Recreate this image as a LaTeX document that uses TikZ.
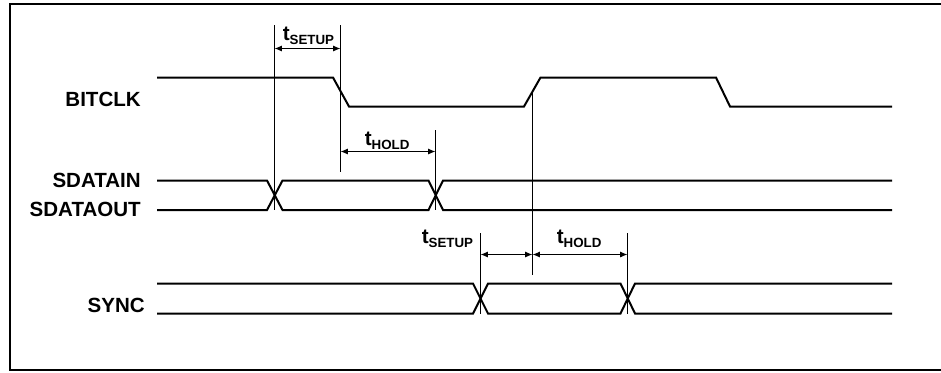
\documentclass[tikz,border=0pt]{standalone}
\usepackage{fontspec}
\setmainfont{Liberation Sans}
\usetikzlibrary{arrows.meta}
\tikzset{
  sigline/.style={line width=1.5pt, line join=miter},
  guide/.style={line width=0.8pt},
  span/.style={line width=0.8pt, {Latex[length=5.5pt,width=4.5pt]}-{Latex[length=5.5pt,width=4.5pt]}},
  lbl/.style={anchor=east, inner sep=0pt, font=\bfseries\fontsize{15.4}{18}\selectfont},
  tlbl/.style={anchor=base west, inner sep=0pt, font=\bfseries}
}
\newcommand{\tsub}[1]{{\fontsize{15.5}{18}\selectfont t}\raisebox{-3pt}{\fontsize{10}{12}\selectfont #1}}
\begin{document}
\begin{tikzpicture}[x=0.75pt, y=-0.75pt]
\useasboundingbox (0,0) rectangle (941,372);
\clip (0,0) rectangle (941,372);
\draw[line width=1.5pt] (10,4) rectangle (960,370);

\node[lbl] (bitclk) at (141,99.5) {BITCLK};
\node[lbl] (sdatain) at (141,180.5) {SDATAIN};
\node[lbl] (sdataout) at (141,209.5) {SDATAOUT};
\node[lbl] (sync) at (145,305) {SYNC};

\draw[sigline] (157,77.5) -- (333,77.5) -- (349,106.5) -- (524,106.5) -- (540.5,77.5) -- (716,77.5) -- (730,106.5) -- (892,106.5);
\draw[sigline] (157,180.5) -- (267,180.5) -- (282.5,210) -- (428.5,210) -- (443,180.5) -- (892,180.5);
\draw[sigline] (157,210) -- (267,210) -- (282.5,180.5) -- (428.5,180.5) -- (443,210) -- (892,210);
\draw[sigline] (157,283.5) -- (473,283.5) -- (488,313.5) -- (620.5,313.5) -- (635,283.5) -- (892,283.5);
\draw[sigline] (157,313.5) -- (473,313.5) -- (488,283.5) -- (620.5,283.5) -- (635,313.5) -- (892,313.5);

\coordinate (g1t) at (274.5,25);   \coordinate (g1b) at (274.5,210);
\coordinate (g2t) at (340.5,25);   \coordinate (g2b) at (340.5,172);
\coordinate (g3t) at (435.5,130);  \coordinate (g3b) at (435.5,210);
\coordinate (g4t) at (532.5,92);   \coordinate (g4b) at (532.5,275);
\coordinate (g5t) at (480.5,233);  \coordinate (g5b) at (480.5,313.5);
\coordinate (g6t) at (627.5,233);  \coordinate (g6b) at (627.5,313.5);
\foreach \g in {1,...,6}
  \draw[guide] (g\g t) -- (g\g b);

\coordinate (a1) at (274.5,48.5);  \coordinate (a2) at (340.5,48.5);
\coordinate (b1) at (340.5,151.5); \coordinate (b2) at (435.5,151.5);
\coordinate (c1) at (480.5,254.5); \coordinate (c2) at (532.5,254.5); \coordinate (c3) at (627.5,254.5);
\draw[span] (a1) -- (a2);
\draw[span] (b1) -- (b2);
\draw[span] (c1) -- (c2);
\draw[span] (c2) -- (c3);

\node[tlbl] (ts1) at (282.5,40) {\tsub{SETUP}};
\node[tlbl] (th1) at (364.5,145) {\tsub{HOLD}};
\node[tlbl] (ts2) at (421.5,243) {\tsub{SETUP}};
\node[tlbl] (th2) at (556.5,243) {\tsub{HOLD}};
\end{tikzpicture}
\end{document}
